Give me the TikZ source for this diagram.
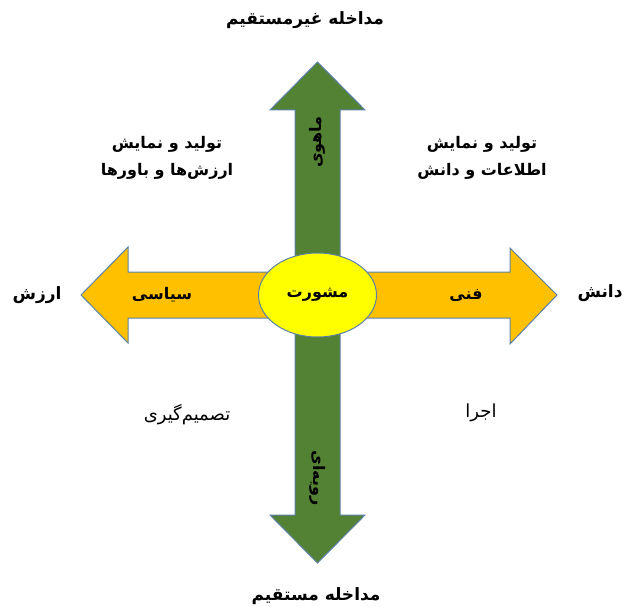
\documentclass[tikz,border=0pt]{standalone}
\usepackage{fontspec}
\usetikzlibrary{shapes.geometric}
\newfontfamily\fa[Script=Arabic]{DejaVu Sans}
\TeXXeTstate=1
\definecolor{agreen}{HTML}{548235}
\definecolor{aorange}{HTML}{FFC000}
\definecolor{aedge}{HTML}{5B80A8}
\definecolor{ayellow}{HTML}{FFFF00}
\begin{document}
\begin{tikzpicture}[x=1pt,y=-1pt,
  arrowbody/.style={draw=aedge,line width=1pt,line join=miter},
  biglbl/.style={font=\fa\bfseries\fontsize{17}{19}\selectfont,inner sep=0pt},
  armlbl/.style={font=\fa\bfseries\fontsize{16}{18}\selectfont,inner sep=0pt},
  bodylbl/.style={font=\fa\bfseries\fontsize{16}{27}\selectfont,align=center,inner sep=0pt},
  lowlbl/.style={font=\fa\fontsize{18}{20}\selectfont,inner sep=0pt},
  centre/.style={ellipse,draw=aedge,line width=1pt,fill=ayellow,minimum width=118pt,minimum height=84pt,inner sep=0pt,font=\fa\bfseries\fontsize{16}{18}\selectfont}]
\useasboundingbox (0,0) rectangle (626,607);
% horizontal arrows
\path[arrowbody,fill=aorange] (320,272) -- (128,272) -- (128,247) -- (81,295) -- (128,343) -- (128,318) -- (320,318) -- cycle;
\path[arrowbody,fill=aorange] (314,272) -- (510,272) -- (510,248) -- (557,295) -- (510,344) -- (510,318) -- (314,318) -- cycle;
% vertical arrows
\path[arrowbody,fill=agreen] (295,300) -- (295,110) -- (270,110) -- (317.5,62) -- (365,110) -- (340,110) -- (340,300) -- cycle;
\path[arrowbody,fill=agreen] (295,290) -- (295,515) -- (270,515) -- (317.5,563) -- (365,515) -- (340,515) -- (340,290) -- cycle;
% centre
\node[centre] (c) at (317.5,295) {\beginR مشورت\endR};
% arm labels
\node[armlbl] (siyasi) at (162,295) {\beginR سیاسی\endR};
\node[armlbl] (fanni) at (466,295) {\beginR فنی\endR};
\node[armlbl,rotate=90] (mahavi) at (317.5,142) {\beginR ماهوی\endR};
\node[armlbl,rotate=-90] (raviyei) at (317.5,478) {\beginR رویه\char"200C ای\endR};
% outer labels
\node[biglbl] (top) at (305,20) {\beginR مداخله غیرمستقیم\endR};
\node[biglbl] (bottom) at (316,596) {\beginR مداخله مستقیم\endR};
\node[biglbl] (arzesh) at (37,295) {\beginR ارزش\endR};
\node[biglbl] (danesh) at (600,293) {\beginR دانش\endR};
% quadrant labels
\node[bodylbl] (ul) at (167,158) {\beginR تولید و نمایش\endR\\\beginR ارزش\char"200C ها و باورها\endR};
\node[bodylbl] (ur) at (482,158) {\beginR تولید و نمایش\endR\\\beginR اطلاعات و دانش\endR};
\node[lowlbl] (ll) at (187,415) {\beginR تصمیم\char"200C گیری\endR};
\node[lowlbl] (lr) at (481,413) {\beginR اجرا\endR};
\end{tikzpicture}
\end{document}
